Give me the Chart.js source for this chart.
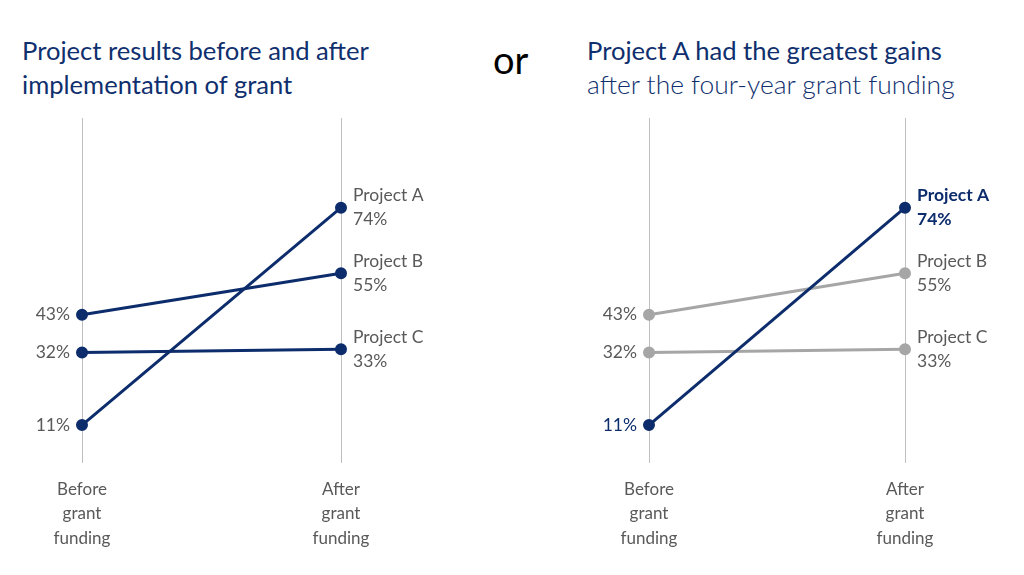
<!DOCTYPE html>
<html>
<head>
<meta charset="utf-8">
<script src="https://cdn.jsdelivr.net/npm/chart.js@4.4.1/dist/chart.umd.min.js"></script>
<style>
  body { margin: 0; background: #fff; width: 1024px; height: 575px; overflow: hidden; position: relative; font-family: Lato, "Open Sans", sans-serif; }
  .title { position: absolute; color: #0F2F6E; font-size: 25.6px; line-height: 34px; white-space: nowrap; }
  .light { font-weight: 300; font-size: 26.4px; }
  #or { position: absolute; left: 493px; top: 36px; font-size: 38px; color: #000; }
  canvas { position: absolute; top: 0; }
</style>
</head>
<body>
<div class="title" style="left:22px; top:33px;">Project results before and after<br>implementation of grant</div>
<div id="or">or</div>
<div class="title" style="left:587px; top:33px;">Project A had the greatest gains<br><span class="light">after the four-year grant funding</span></div>
<canvas id="chartLeft" width="512" height="575" style="left:0px"></canvas>
<canvas id="chartRight" width="512" height="575" style="left:512px"></canvas>
<script>
// slope chart data
const categories = [["Before", "grant", "funding"], ["After", "grant", "funding"]];
const projects = ["Project A", "Project B", "Project C"];
const projectA = [11, 74];
const projectB = [43, 55];
const projectC = [32, 33];
const seriesValues = [projectA, projectB, projectC];

const NAVY = '#0C2C6C';
const GRAY_LINE = '#A6A6A6';
const GRAY_TEXT = '#595959';
const FONT = 'Lato, "Open Sans", sans-serif';

// draws value labels left of the first point and name + value right of the last point
const slopeLabels = {
    id: 'slopeLabels',
    afterDatasetsDraw(chart, args, opts) {
        const ctx = chart.ctx;
        chart.data.datasets.forEach((ds, i) => {
            const meta = chart.getDatasetMeta(i);
            const p0 = meta.data[0], p1 = meta.data[1];
            const hl = opts.highlight === i;
            ctx.save();
            ctx.textBaseline = 'middle';
            // left value
            ctx.fillStyle = hl ? NAVY : GRAY_TEXT;
            ctx.font = '17.5px ' + FONT;
            ctx.textAlign = 'right';
            ctx.fillText(ds.data[0] + '%', p0.x - 12, p0.y);
            // right name + value
            ctx.textAlign = 'left';
            ctx.font = (hl ? 'bold ' : '') + '17.5px ' + FONT;
            ctx.fillText(ds.label, p1.x + 12, p1.y - 12);
            ctx.fillText(ds.data[1] + '%', p1.x + 12, p1.y + 12);
            ctx.restore();
        });
    }
};

function makeChart(id, padLeft, padRight, highlight) {
    const datasets = projects.map((name, i) => {
        const col = (highlight === undefined || highlight === i) ? NAVY : GRAY_LINE;
        return {
            label: name,
            data: seriesValues[i],
            borderColor: col,
            backgroundColor: col,
            pointBackgroundColor: col,
            pointBorderColor: col,
            borderWidth: 3,
            pointRadius: 4.5,
            fill: false,
            tension: 0
        };
    });
    // highlighted line on top
    if (highlight !== undefined) datasets[highlight].order = -1;

    return new Chart(document.getElementById(id), {
        type: 'line',
        data: { labels: categories, datasets: datasets },
        options: {
            responsive: false,
            animation: false,
            layout: { padding: { left: padLeft, right: padRight, top: 118, bottom: 0 } },
            plugins: {
                legend: { display: false },
                tooltip: { enabled: false },
                slopeLabels: { highlight: highlight }
            },
            scales: {
                x: {
                    offset: false,
                    grid: { color: '#BFBFBF', lineWidth: 1, drawTicks: false },
                    border: { display: false },
                    ticks: {
                        color: GRAY_TEXT,
                        padding: 14,
                        maxRotation: 0,
                        font: { family: FONT, size: 17, lineHeight: 1.44 }
                    },
                    afterFit(scale) { scale.height = 112; }
                },
                y: { display: false, min: 0, max: 100 }
            }
        },
        plugins: [slopeLabels]
    });
}

makeChart('chartLeft', 82, 171);
makeChart('chartRight', 137, 119, 0);
</script>
</body>
</html>
